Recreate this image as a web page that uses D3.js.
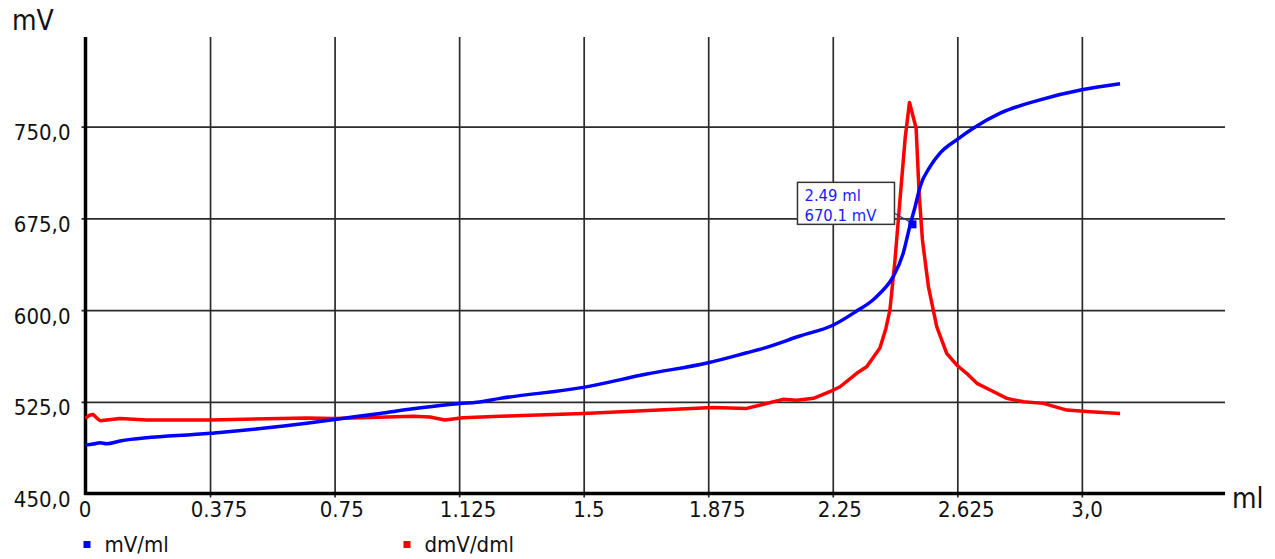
<!DOCTYPE html>
<html>
<head>
<meta charset="utf-8">
<script src="https://cdn.jsdelivr.net/npm/d3@7"></script>
<style>
  body { margin: 0; background: #fff; }
  svg { display: block; }
  text { font-family: "DejaVu Sans Condensed", "DejaVu Sans", sans-serif; font-stretch: condensed; fill: #111; }
</style>
</head>
<body>
<script>
// titration curve, mV vs ml, plus its derivative drawn on the same axis
var mlBlue = [0, 0.023, 0.044, 0.064, 0.104, 0.375, 0.666, 0.751, 0.887, 0.986, 1.088, 1.128, 1.178, 1.248,
  1.499, 1.690, 1.875, 1.991, 2.040, 2.151, 2.252, 2.322, 2.371, 2.392, 2.432, 2.462, 2.483, 2.498, 2.513,
  2.543, 2.573, 2.623, 2.673, 2.754, 2.874, 3.000, 3.115];
var mvBlue = [489.6, 490.4, 491.5, 490.7, 492.9, 499.2, 507.4, 510.6, 515.5, 519.3, 522.6, 523.6, 524.6, 527.8,
  536.8, 547.7, 556.9, 565.1, 568.7, 578.8, 587.8, 599.2, 608.2, 613.7, 627.3, 646.4, 669.6, 684.6, 700.9,
  717.3, 728.3, 739.2, 748.7, 761.0, 771.9, 780.1, 785.0];

var mlRed = [0, 0.012, 0.023, 0.035, 0.044, 0.064, 0.104, 0.184, 0.375, 0.666, 0.751, 0.986, 1.037, 1.082, 1.137,
  1.248, 1.499, 1.889, 1.991, 2.100, 2.141, 2.192, 2.252, 2.272, 2.322, 2.352, 2.392, 2.410, 2.422, 2.437, 2.452,
  2.468, 2.481, 2.501, 2.510, 2.520, 2.538, 2.563, 2.593, 2.623, 2.653, 2.684, 2.724, 2.774, 2.824, 2.884,
  2.955, 3.025, 3.115];
var dmvRed = [511.4, 514.0, 514.7, 511.5, 509.5, 510.1, 511.4, 510.1, 510.1, 511.7, 511.4, 513.1, 512.5, 510.1, 511.9,
  513.1, 515.5, 520.4, 519.6, 527.0, 526.2, 527.8, 534.6, 537.3, 548.3, 553.7, 569.0, 585.0, 600.0, 639.8, 688.9,
  740.7, 769.7, 748.7, 695.5, 657.3, 619.1, 586.4, 564.6, 555.1, 548.3, 540.1, 534.6, 527.8, 525.0, 523.7,
  518.2, 516.8, 515.5];

var xTicks = [0, 0.375, 0.75, 1.125, 1.5, 1.875, 2.25, 2.625, 3.0];
var xTickLabels = ["0", "0.375", "0.75", "1.125", "1.5", "1.875", "2.25", "2.625", "3,0"];
var yTicks = [450, 525, 600, 675, 750];
var yTickLabels = ["450,0", "525,0", "600,0", "675,0", "750,0"];

var seriesNames = ["mV/ml", "dmV/dml"];
var seriesColors = ["#0000ff", "#ff0000"];

var marker = { ml: 2.49, mv: 670.1 };
var markerLines = ["2.49 ml", "670.1 mV"];

var w = 1275, h = 559;
var x0 = 85.5, x1 = 1225, yBottom = 493.5, yTop = 37;

var x = d3.scaleLinear().domain([0, 3.431]).range([x0, x1]);
var y = d3.scaleLinear().domain([450, 823.3]).range([yBottom, yTop]);

var svg = d3.select("body").append("svg")
  .attr("width", w)
  .attr("height", h);

// vertical grid
svg.append("g")
  .attr("transform", "translate(0," + (yBottom + 4) + ")")
  .call(d3.axisBottom(x).tickValues(xTicks.slice(1)).tickSize(-(yBottom + 4 - yTop)).tickSizeOuter(0).tickFormat(""))
  .call(g => g.select(".domain").remove())
  .call(g => g.selectAll("line").attr("stroke", "#2b2b2b").attr("stroke-width", 1.7));

// horizontal grid
svg.append("g")
  .attr("transform", "translate(" + (x0 - 4) + ",0)")
  .call(d3.axisLeft(y).tickValues(yTicks.slice(1)).tickSize(-(x1 - x0 + 4)).tickSizeOuter(0).tickFormat(""))
  .call(g => g.select(".domain").remove())
  .call(g => g.selectAll("line").attr("stroke", "#2b2b2b").attr("stroke-width", 1.7));

// x tick labels
svg.append("g")
  .attr("transform", "translate(0," + yBottom + ")")
  .call(d3.axisBottom(x).tickValues(xTicks).tickSize(0).tickFormat((d, i) => xTickLabels[i]))
  .call(g => g.select(".domain").remove())
  .call(g => g.selectAll("text")
    .attr("y", 23).attr("dy", 0)
    .attr("font-size", 22)
    .attr("font-family", null)
    .attr("fill", "#111")
    .attr("dx", function(d, i) { return i == 0 ? -1 : this.getComputedTextLength() * 0.15; }));

// y tick labels
svg.append("g")
  .attr("transform", "translate(" + x0 + ",0)")
  .call(d3.axisLeft(y).tickValues(yTicks).tickSize(0).tickPadding(15).tickFormat((d, i) => yTickLabels[i]))
  .call(g => g.select(".domain").remove())
  .call(g => g.selectAll("text")
    .attr("dy", 13)
    .attr("font-size", 22)
    .attr("font-family", null)
    .attr("fill", "#111"));

// axis lines
svg.append("line").attr("x1", x0 - 1).attr("x2", x1).attr("y1", yBottom).attr("y2", yBottom)
  .attr("stroke", "#000").attr("stroke-width", 3.5);
svg.append("line").attr("x1", x0).attr("x2", x0).attr("y1", yBottom + 1.5).attr("y2", yTop)
  .attr("stroke", "#000").attr("stroke-width", 3.5);

// axis titles
svg.append("text").attr("x", 12).attr("y", 30).attr("font-size", 28).text("mV");
svg.append("text").attr("x", 1232).attr("y", 508).attr("font-size", 28).text("ml");

// curves
var blueLine = d3.line().x((d, i) => x(mlBlue[i])).y(d => y(d)).curve(d3.curveMonotoneX);
var redLine = d3.line().x((d, i) => x(mlRed[i])).y(d => y(d));

svg.append("path").datum(dmvRed)
  .attr("d", redLine)
  .attr("fill", "none").attr("stroke", seriesColors[1]).attr("stroke-width", 3.5)
  .attr("stroke-linejoin", "round");

svg.append("path").datum(mvBlue)
  .attr("d", blueLine)
  .attr("fill", "none").attr("stroke", seriesColors[0]).attr("stroke-width", 3.5)
  .attr("stroke-linejoin", "round");

// equivalence point marker + label box
var mx = x(marker.ml), my = y(marker.mv);
var note = svg.append("g");
note.append("line")
  .attr("x1", mx - 18).attr("y1", my - 11).attr("x2", mx - 2).attr("y2", my - 2)
  .attr("stroke", "#2a3a7a").attr("stroke-width", 1.2);
note.append("rect")
  .attr("x", mx - 115).attr("y", my - 42).attr("width", 97).attr("height", 42)
  .attr("fill", "#fff").attr("stroke", "#333").attr("stroke-width", 1.5);
note.selectAll("text.lbl").data(markerLines).join("text")
  .attr("class", "lbl")
  .attr("x", mx - 108)
  .attr("y", (d, i) => my - 23 + i * 20)
  .attr("font-size", 16.5)
  .style("fill", "#1a1aff")
  .text(d => d);
note.append("rect")
  .attr("x", mx - 4).attr("y", my - 4).attr("width", 8).attr("height", 8)
  .attr("fill", seriesColors[0]);

// legend
var legendX = [83.5, 403.5];
var legend = svg.selectAll("g.leg").data(seriesNames).join("g")
  .attr("class", "leg")
  .attr("transform", (d, i) => "translate(" + legendX[i] + ",541)");
legend.append("rect").attr("width", 7).attr("height", 7).attr("fill", (d, i) => seriesColors[i]);
legend.append("text").attr("x", 21).attr("y", 11).attr("font-size", 22).text(d => d);
</script>
</body>
</html>
